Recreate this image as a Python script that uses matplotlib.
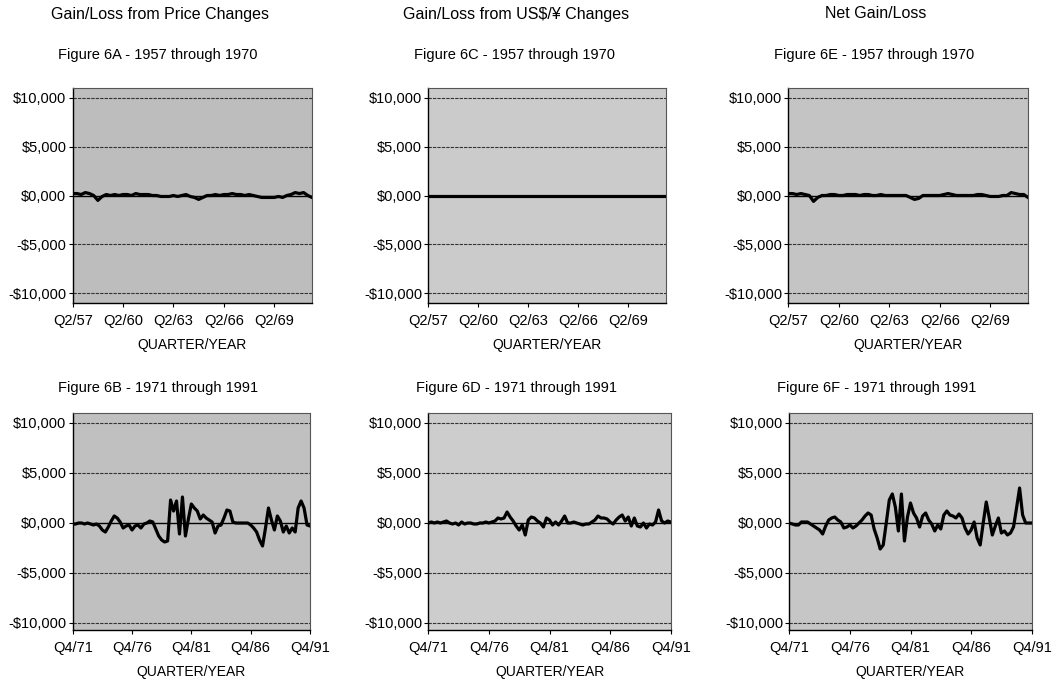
import matplotlib
matplotlib.use("Agg")
import matplotlib.pyplot as plt
import numpy as np

plt.rcParams['font.family'] = ['Liberation Sans', 'DejaVu Sans']

# Quarter categories
quarters_early = []
for year in range(1957, 1972):
    for q in range(1, 5):
        if (year == 1957 and q < 2) or (year == 1971 and q > 3):
            continue
        quarters_early.append(f"Q{q}/{year % 100:02d}")

quarters_late = []
for year in range(1971, 1992):
    for q in range(1, 5):
        if year == 1971 and q < 4:
            continue
        quarters_late.append(f"Q{q}/{year % 100:02d}")

ticks_early = ["Q2/57", "Q2/60", "Q2/63", "Q2/66", "Q2/69"]
ticks_late = ["Q4/71", "Q4/76", "Q4/81", "Q4/86", "Q4/91"]

y_ticks = [-10000, -5000, 0, 5000, 10000]
y_tick_labels = ["-$10,000", "-$5,000", "$0,000", "$5,000", "$10,000"]

# Fig 6A - gain/loss from price changes, 1957-1970
price_early = [200, 200, 100, 300, 200, 0, -500, -100, 100, 0,
               100, 0, 100, 100, 0, 200, 100, 100, 100, 0,
               0, -100, -100, -100, 0, -100, 0, 100, -100, -200,
               -400, -200, 0, 0, 100, 0, 100, 100, 200, 100,
               100, 0, 100, 0, -100, -200, -200, -200, -200, -100,
               -200, 0, 100, 300, 200, 300, 0, -200]

# Fig 6C - gain/loss from US$/yen changes, 1957-1970 (fixed rate)
fx_early = [0, 0, 0, 0, 0, 0, 0, 0, 0, 0,
            0, 0, 0, 0, 0, 0, 0, 0, 0, 0,
            0, 0, 0, 0, 0, 0, 0, 0, 0, 0,
            0, 0, 0, 0, 0, 0, 0, 0, 0, 0,
            0, 0, 0, 0, 0, 0, 0, 0, 0, 0,
            0, 0, 0, 0, 0, 0, 0, 0]

# Fig 6E - net gain/loss, 1957-1970
net_early = [200, 200, 100, 200, 100, 0, -600, -200, 0, 0,
             100, 100, 0, 0, 100, 100, 100, 0, 100, 100,
             0, 0, 100, 0, 0, 0, 0, 0, 0, -200,
             -400, -300, 0, 0, 0, 0, 0, 100, 200, 100,
             0, 0, 0, 0, 0, 100, 100, 0, -100, -100,
             -100, 0, 0, 300, 200, 100, 100, -200]

# Fig 6B - price changes, 1971-1991
price_late = [-100, -100, 0, 0, -100, 0, -100, -200, -100, -300,
              -700, -900, -400, 200, 700, 500, 100, -500, -300, -200,
              -700, -300, -200, -500, -100, 0, 200, 100, -600, -1300,
              -1700, -1900, -1800, 2300, 1200, 2200, -1100, 2600, -1300, 400,
              1900, 1500, 1200, 400, 800, 500, 300, 100, -1000, -300,
              -200, 500, 1300, 1200, 100, 0, 0, 0, 0, 0,
              -200, -500, -900, -1700, -2300, -500, 1500, 300, -700, 700,
              200, -900, -300, -1000, -500, -900, 1500, 2200, 1500, -200, -300]

# Fig 6D - US$/yen changes, 1971-1991
fx_late = [0, 100, 0, 100, 0, 100, 200, 0, -100, 0,
           -200, 100, -100, 0, 0, -100, -100, 0, 0, 100,
           0, 100, 200, 500, 400, 500, 1100, 600, 200, -300,
           -700, -200, -1200, 300, 600, 500, 200, 0, -400, 500,
           300, -200, 100, -200, 200, 700, 0, 0, 100, 0,
           -100, -200, -100, -100, 100, 300, 700, 500, 500, 400,
           100, -100, 300, 600, 800, 200, 600, -300, 500, -300,
           -400, 0, -500, -100, -200, 100, 1300, 200, 0, 200, 100]

# Fig 6F - net gain/loss, 1971-1991
net_late = [0, -100, -200, -200, 100, 100, 100, -100, -300, -500,
            -700, -1100, -300, 300, 500, 600, 300, 100, -500, -400,
            -200, -500, -300, 0, 300, 700, 1000, 800, -600, -1500,
            -2600, -2200, 0, 2300, 2900, 1600, -800, 2900, -1800, 600,
            2000, 1000, 500, -400, 700, 1000, 300, -100, -800, -200,
            -600, 800, 1200, 800, 700, 500, 900, 500, -500, -1100,
            -700, 100, -1500, -2200, 0, 2100, 500, -1200, -300, 500,
            -1000, -800, -1200, -1000, -400, 1500, 3500, 800, 0, 0, 0]

headers = ["Gain/Loss from Price Changes", "Gain/Loss from US$/\u00a5 Changes", "Net Gain/Loss"]
header_x = [160, 516, 876]
subtitles_top = ["Figure 6A - 1957 through 1970", "Figure 6C - 1957 through 1970", "Figure 6E - 1957 through 1970"]
subtitles_bottom = ["Figure 6B - 1971 through 1991", "Figure 6D - 1971 through 1991", "Figure 6F - 1971 through 1991"]
sub_top_x = [158, 514, 874]
sub_bottom_x = [158, 517, 877]

W, H = 1052, 685
fig = plt.figure(figsize=(W / 100, H / 100), dpi=100)
fig.patch.set_facecolor("white")


def px_axes(left, right, top, bottom):
    return fig.add_axes([left / W, 1 - bottom / H, (right - left) / W, (bottom - top) / H])


def style_panel(ax, quarters, values, ticks, ylim, face):
    x = np.arange(len(quarters))
    ax.set_facecolor(face)
    for yv in [-10000, -5000, 5000, 10000]:
        ax.axhline(yv, color="#333333", lw=0.8, ls=(0, (3, 1)), zorder=1)
    ax.axhline(0, color="black", lw=1.0, zorder=2)
    ax.plot(x, values, color="black", lw=2.3, zorder=3, solid_joinstyle="round")
    ax.set_xlim(0, len(quarters) - 1)
    ax.set_ylim(*ylim)
    ax.set_xticks([quarters.index(t) for t in ticks])
    ax.set_xticklabels(ticks)
    ax.set_yticks(y_ticks)
    ax.set_yticklabels(y_tick_labels)
    ax.tick_params(axis="both", labelsize=10.5, length=3, width=0.8, color="black")
    ax.tick_params(axis="y", pad=1.5)
    ax.tick_params(axis="x", pad=5)
    ax.set_xlabel("QUARTER/YEAR", fontsize=10, labelpad=7)
    for side in ["left", "bottom"]:
        ax.spines[side].set_color("black")
        ax.spines[side].set_linewidth(1.0)
    for side in ["top", "right"]:
        ax.spines[side].set_color("#555555")
        ax.spines[side].set_linewidth(0.8)


# top row: 1957-1970
top_cols = [(72.7, 312), (428.3, 666), (788.3, 1028)]
top_faces = ["#bdbdbd", "#cbcbcb", "#c4c4c4"]
for (l, r), vals, face in zip(top_cols, [price_early, fx_early, net_early], top_faces):
    ax = px_axes(l, r, 88, 303)
    style_panel(ax, quarters_early, vals, ticks_early, (-11000, 11000), face)

# bottom row: 1971-1991
bottom_cols = [(72.7, 310), (428.3, 670.7), (789.3, 1031.7)]
bottom_faces = ["#c0c0c0", "#cdcdcd", "#c6c6c6"]
for (l, r), vals, face in zip(bottom_cols, [price_late, fx_late, net_late], bottom_faces):
    ax = px_axes(l, r, 413, 630)
    style_panel(ax, quarters_late, vals, ticks_late, (-10700, 11000), face)

for txt, xc in zip(headers, header_x):
    fig.text(xc / W, 1 - 14 / H, txt, ha="center", va="center", fontsize=11.5)
for txt, xc in zip(subtitles_top, sub_top_x):
    fig.text(xc / W, 1 - 55 / H, txt, ha="center", va="center", fontsize=10.5)
for txt, xc in zip(subtitles_bottom, sub_bottom_x):
    fig.text(xc / W, 1 - 388 / H, txt, ha="center", va="center", fontsize=10.5)

fig.savefig("out.png", dpi=100)
